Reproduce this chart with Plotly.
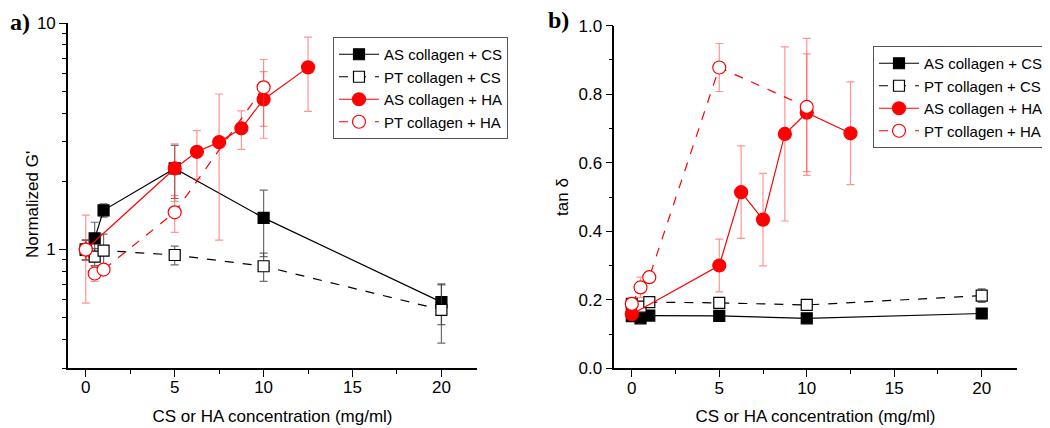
import plotly.graph_objects as go
import numpy as np

# ---------------- data ----------------
x_cs = [0, 0.5, 1, 5, 10, 20]
x_as_ha = [0, 5, 6.25, 7.5, 8.75, 10, 12.5]
x_pt_ha = [0, 0.5, 1, 5, 10]

# panel a: normalized G'
g_as_cs = [1.0, 1.12, 1.49, 2.28, 1.38, 0.586]
g_as_cs_err = [0.1, 0.2, 0.1, 0.6, 0.45, 0.12]
g_pt_cs = [1.0, 0.93, 0.99, 0.946, 0.844, 0.542]
g_pt_cs_err = [0.1, 0.08, 0.18, 0.09, 0.12, 0.156]
g_as_ha = [1.0, 2.28, 2.70, 2.98, 3.43, 4.60, 6.37]
g_as_ha_err = [0.42, 0.65, 0.65, 1.88, 0.66, 1.5, 2.3]
g_pt_ha = [1.0, 0.784, 0.816, 1.46, 5.2]
g_pt_ha_err = [0.1, 0.06, 0.03, 0.27, 1.7]

# panel b: tan delta
t_as_cs = [0.152, 0.146, 0.154, 0.153, 0.146, 0.160]
t_as_cs_err = [0.005, 0.005, 0.005, 0.005, 0.005, 0.006]
t_pt_cs = [0.188, 0.18, 0.193, 0.191, 0.185, 0.212]
t_pt_cs_err = [0.01, 0.015, 0.01, 0.01, 0.01, 0.02]
t_as_ha = [0.158, 0.30, 0.514, 0.434, 0.684, 0.746, 0.686]
t_as_ha_err = [0.01, 0.077, 0.135, 0.135, 0.254, 0.172, 0.15]
t_pt_ha = [0.188, 0.236, 0.266, 0.878, 0.763]
t_pt_ha_err = [0.01, 0.03, 0.01, 0.07, 0.2]

names = ["AS collagen + CS", "PT collagen + CS", "AS collagen + HA", "PT collagen + HA"]

FONT = "Arial, Liberation Sans, sans-serif"
RED = "#ff0000"
ERR_BLACK = "rgba(60,60,60,0.75)"
ERR_RED = "rgba(255,60,60,0.55)"

# page body has an 8px margin: size figure to fill the rest of the window
OFF = 8
W, H = 1050 - OFF, 428 - OFF
def fx(px):
    return (px - OFF) / W
def fy(py):
    return 1 - (py - OFF) / H

styles = [
    dict(color="black", dash="solid", symbol="square", fill="black", err=ERR_BLACK, size=11),
    dict(color="black", dash="dash", symbol="square", fill="white", err=ERR_BLACK, size=11),
    dict(color=RED, dash="solid", symbol="circle", fill=RED, err=ERR_RED, size=13),
    dict(color=RED, dash="dash", symbol="circle", fill="white", err=ERR_RED, size=13),
]

fig = go.Figure()

panel_a = [(x_cs, g_as_cs, g_as_cs_err), (x_cs, g_pt_cs, g_pt_cs_err),
           (x_as_ha, g_as_ha, g_as_ha_err), (x_pt_ha, g_pt_ha, g_pt_ha_err)]
panel_b = [(x_cs, t_as_cs, t_as_cs_err), (x_cs, t_pt_cs, t_pt_cs_err),
           (x_as_ha, t_as_ha, t_as_ha_err), (x_pt_ha, t_pt_ha, t_pt_ha_err)]

for panel, (xa, ya, leg) in zip([panel_a, panel_b], [("x", "y", "legend"), ("x2", "y2", "legend2")]):
    for (xs, ys, es), nm, st in zip(panel, names, styles):
        fig.add_trace(go.Scatter(
            x=xs, y=ys, name=nm, mode="lines+markers",
            xaxis=xa, yaxis=ya, legend=leg,
            line=dict(color=st["color"], width=1.2, dash=st["dash"]),
            marker=dict(symbol=st["symbol"], size=st["size"], color=st["fill"],
                        line=dict(color=st["color"], width=1.2)),
            error_y=dict(type="data", array=es, visible=True, color=st["err"],
                         thickness=1.2, width=4),
        ))

axis_common = dict(
    showline=True, linecolor="black", linewidth=1.6, mirror=False,
    ticks="outside", ticklen=7, tickwidth=1.4, tickcolor="black",
    showgrid=False, zeroline=False,
    tickfont=dict(family=FONT, size=17, color="black"),
    title_font=dict(family=FONT, size=17, color="black"),
    automargin=False,
)

legend_common = dict(xanchor="left", yanchor="top",
                     bordercolor="#555", borderwidth=1, bgcolor="white",
                     font=dict(family=FONT, size=15, color="black"),
                     itemwidth=40, tracegroupgap=0)

fig.update_layout(
    width=W, height=H,
    margin=dict(l=0, r=0, t=0, b=0),
    paper_bgcolor="white", plot_bgcolor="white",
    showlegend=True,
    xaxis=dict(domain=[fx(68), fx(477)], range=[-1, 22], dtick=5, tick0=0,
               minor=dict(dtick=2.5, tick0=0, ticks="outside", ticklen=4, tickcolor="black"),
               ticklabelstandoff=-4,
               title=dict(text="CS or HA concentration (mg/ml)", standoff=14),
               anchor="y", **axis_common),
    yaxis=dict(domain=[fy(368), fy(23)], type="log", range=[np.log10(0.3), 1],
               tickvals=[1, 10], ticktext=["1", "10"],
               minor=dict(tickvals=[0.3, 0.4, 0.5, 0.6, 0.7, 0.8, 0.9, 2, 3, 4, 5, 6, 7, 8, 9],
                          ticks="outside", ticklen=4, tickcolor="black"),
               anchor="x", **axis_common),
    xaxis2=dict(domain=[fx(614.3), fx(1016.7)], range=[-1, 22], dtick=5, tick0=0,
                minor=dict(dtick=2.5, tick0=0, ticks="outside", ticklen=4, tickcolor="black"),
                ticklabelstandoff=-4,
                title=dict(text="CS or HA concentration (mg/ml)", standoff=14),
                anchor="y2", **axis_common),
    yaxis2=dict(domain=[fy(368.3), fy(25.7)], range=[0, 1.0], dtick=0.2, tick0=0,
                tickformat=".1f",
                minor=dict(dtick=0.1, tick0=0, ticks="outside", ticklen=4, tickcolor="black"),
                title=dict(text="tan δ", standoff=6),
                anchor="x2", **axis_common),
    legend=dict(x=fx(333), y=fy(37), **legend_common),
    legend2=dict(x=fx(873), y=fy(46), **legend_common),
)

# y title of panel a (placed close to the tick labels as in the reference)
fig.add_annotation(text="Normalized G'", textangle=-90, x=fx(32), y=fy(205),
                   xref="paper", yref="paper", xanchor="center", yanchor="middle",
                   showarrow=False, font=dict(family=FONT, size=17, color="black"))

fig.add_annotation(text="<b>a)</b>", x=fx(8), y=fy(22), xref="paper", yref="paper",
                   xanchor="left", yanchor="middle", showarrow=False,
                   font=dict(family="Liberation Serif, Times New Roman, serif", size=24, color="black"))
fig.add_annotation(text="<b>b)</b>", x=fx(546), y=fy(20), xref="paper", yref="paper",
                   xanchor="left", yanchor="middle", showarrow=False,
                   font=dict(family="Liberation Serif, Times New Roman, serif", size=24, color="black"))

fig.write_html("out.html")
